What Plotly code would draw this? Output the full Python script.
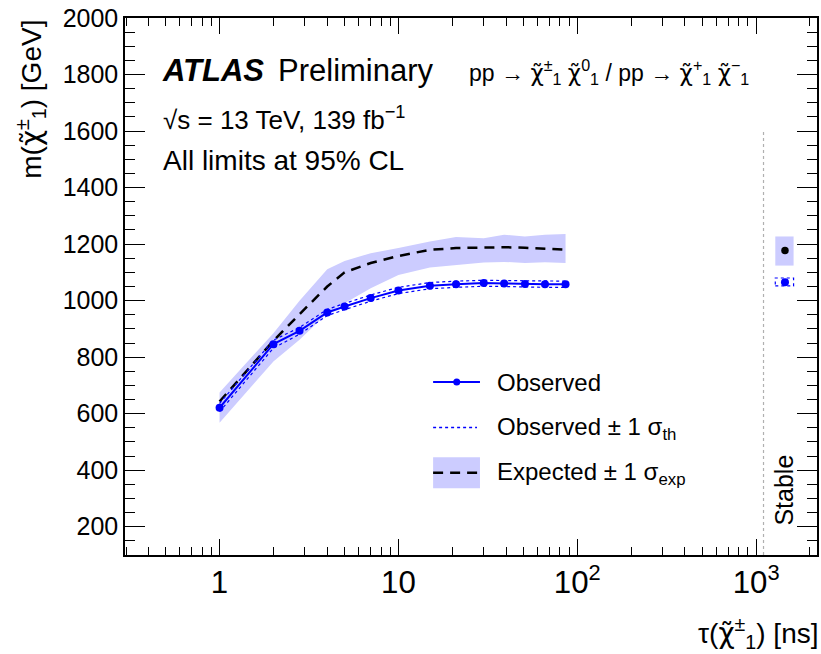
import plotly.graph_objects as go
import math

# ---------------- data ----------------
tau = [1, 2, 2.8, 4, 5, 7, 10, 15, 21, 30, 39, 51, 66, 86]                 # ns
obs = [621, 846, 893, 958, 979, 1009, 1036, 1053, 1058, 1062, 1061, 1059, 1058, 1058]
obs_up = [636, 860, 905, 969, 990, 1020, 1047, 1064, 1069, 1072, 1071, 1070, 1069, 1069]
obs_dn = [607, 832, 881, 947, 968, 998, 1025, 1042, 1047, 1051, 1050, 1048, 1047, 1047]
exp = [643, 858, 952, 1050, 1100, 1133, 1158, 1180, 1186, 1188, 1189, 1187, 1183, 1180]
exp_up = [675, 885, 1000, 1111, 1140, 1168, 1186, 1209, 1225, 1221, 1233, 1227, 1233, 1236]
exp_dn = [568, 785, 862, 955, 991, 1044, 1091, 1117, 1127, 1135, 1137, 1133, 1136, 1133]

stable_tau = [1450]
stable_box_tau = [1280, 1620]
stable_obs = [1065]
stable_obs_up = 1080
stable_obs_dn = 1052
stable_exp = [1177]
stable_exp_up = 1227
stable_exp_dn = 1124
stable_sep_tau = 1100
stable_sep_m = [100, 1600]

x_range = [0.296, 2190]
y_range = [100, 2000]
y_ticks = [200, 400, 600, 800, 1000, 1200, 1400, 1600, 1800, 2000]

# ---------------- layout geometry ----------------
W, H = 821, 654
ML, MR, MT, MB = 125, 2, 18, 99
PW, PH = W - ML - MR, H - MT - MB
FONT = "Liberation Sans"
BLUE = "#0000ff"
BAND = "#ccccff"


def px(x, y):
    """pixel position -> paper coordinates"""
    return (x - ML) / PW, (H - MB - y) / PH


fig = go.Figure()

# expected band
fig.add_trace(go.Scatter(
    x=tau + tau[::-1], y=exp_up + exp_dn[::-1], fill="toself",
    fillcolor=BAND, line=dict(width=0), mode="lines", hoverinfo="skip",
    showlegend=False))
# stable expected box
bx = [stable_box_tau[0], stable_box_tau[1], stable_box_tau[1], stable_box_tau[0], stable_box_tau[0]]
fig.add_trace(go.Scatter(
    x=bx, y=[stable_exp_dn, stable_exp_dn, stable_exp_up, stable_exp_up, stable_exp_dn],
    fill="toself", fillcolor=BAND, line=dict(width=0), mode="lines",
    showlegend=False))
# expected line
fig.add_trace(go.Scatter(
    x=tau, y=exp, mode="lines", line=dict(color="black", width=2.5, dash="10px,7px"),
    showlegend=False))
# observed +-1 sigma th
for arr in (obs_up, obs_dn):
    fig.add_trace(go.Scatter(
        x=tau, y=arr, mode="lines", line=dict(color=BLUE, width=1.2, dash="dot"),
        showlegend=False))
# observed
fig.add_trace(go.Scatter(
    x=tau, y=obs, mode="lines+markers", line=dict(color=BLUE, width=2),
    marker=dict(color=BLUE, size=8), showlegend=False))
# stable observed th box
fig.add_trace(go.Scatter(
    x=bx, y=[stable_obs_dn, stable_obs_dn, stable_obs_up, stable_obs_up, stable_obs_dn],
    mode="lines", line=dict(color=BLUE, width=1.2, dash="dot"), showlegend=False))
fig.add_trace(go.Scatter(
    x=stable_tau, y=stable_obs, mode="markers", marker=dict(color=BLUE, size=8),
    showlegend=False))
fig.add_trace(go.Scatter(
    x=stable_tau, y=stable_exp, mode="markers", marker=dict(color="black", size=7.5),
    showlegend=False))
# stable separator
fig.add_trace(go.Scatter(
    x=[stable_sep_tau, stable_sep_tau], y=stable_sep_m, mode="lines",
    line=dict(color="#b0b0b0", width=1.2, dash="dot"), showlegend=False))

axis_common = dict(
    showgrid=False, zeroline=False, showline=True, linecolor="black", linewidth=1.5,
    mirror="ticks", ticks="inside", tickcolor="black", tickwidth=1,
    tickfont=dict(family=FONT, size=25, color="black"))

fig.update_xaxes(
    type="log", range=[math.log10(x_range[0]), math.log10(x_range[1])],
    dtick=1, exponentformat="power", ticklen=16, ticklabelstandoff=0,
    minor=dict(dtick="D1", ticks="inside", ticklen=8, tickcolor="black", tickwidth=1),
    **axis_common)
fig.update_yaxes(
    range=y_range, tickvals=y_ticks, ticklen=20, ticklabelstandoff=0,
    minor=dict(dtick=50, tick0=0, ticks="inside", ticklen=10, tickcolor="black", tickwidth=1),
    **axis_common)

ann = []


def text(x, y, s, size, xanchor="left", yanchor="middle", angle=0):
    xp, yp = px(x, y)
    ann.append(dict(x=xp, y=yp, xref="paper", yref="paper", text=s, showarrow=False,
                    xanchor=xanchor, yanchor=yanchor, textangle=angle,
                    font=dict(family=FONT, size=size, color="black")))


CHI = "<span style=\"font-family:'DejaVu Sans'\">χ\u0303</span>"
text(160, 70, "<b><i>ATLAS</i></b>", 31)
text(276, 70, "Preliminary", 31)
text(161, 118, "√s = 13 TeV, 139 fb<sup>−1</sup>", 26)
text(161, 160, "All limits at 95% CL", 28)
text(468, 72, f"pp → {CHI}<sup>±</sup><sub>1</sub> {CHI}<sup>0</sup><sub>1</sub> / pp → "
              f"{CHI}<sup>+</sup><sub>1</sub> {CHI}<sup>−</sup><sub>1</sub>", 23)
text(785, 528, "Stable", 25, xanchor="center", yanchor="bottom", angle=-90)
# axis titles
text(30, 18, f"m({CHI}<sup>±</sup><sub>1</sub>) [GeV]", 28, xanchor="center", yanchor="top", angle=-90)
text(822, 633, f"τ({CHI}<sup>±</sup><sub>1</sub>) [ns]", 28, xanchor="right")
# legend
text(496, 382, "Observed", 24)
text(496, 428, "Observed ± 1 σ<sub>th</sub>", 24)
text(496, 473, "Expected ± 1 σ<sub>exp</sub>", 24)

shapes = []
x0, y0 = px(434, 382)
x1, _ = px(481, 382)
shapes.append(dict(type="line", xref="paper", yref="paper", x0=x0, x1=x1, y0=y0, y1=y0,
                   line=dict(color=BLUE, width=2)))
r = 3.5
cx0, cy0 = px(457.7 - r, 382 + r)
cx1, cy1 = px(457.7 + r, 382 - r)
shapes.append(dict(type="circle", xref="paper", yref="paper", x0=cx0, x1=cx1, y0=cy0, y1=cy1,
                   fillcolor=BLUE, line=dict(color=BLUE, width=0)))
x0, y0 = px(434, 427.5)
x1, _ = px(478, 427.5)
shapes.append(dict(type="line", xref="paper", yref="paper", x0=x0, x1=x1, y0=y0, y1=y0,
                   line=dict(color=BLUE, width=1.3, dash="dot")))
bx0, by0 = px(434, 488.3)
bx1, by1 = px(481, 457.3)
shapes.append(dict(type="rect", xref="paper", yref="paper", x0=bx0, x1=bx1, y0=by0, y1=by1,
                   fillcolor=BAND, line=dict(width=0)))
x0, y0 = px(434, 472.7)
x1, _ = px(481, 472.7)
shapes.append(dict(type="line", xref="paper", yref="paper", x0=x0, x1=x1, y0=y0, y1=y0,
                   line=dict(color="black", width=2.5, dash="10px,7px")))

fig.update_layout(
    width=W, height=H, margin=dict(l=ML, r=MR, t=MT, b=MB, pad=0),
    paper_bgcolor="white", plot_bgcolor="white", showlegend=False,
    annotations=ann, shapes=shapes, font=dict(family=FONT))

fig.write_html("out.html")
